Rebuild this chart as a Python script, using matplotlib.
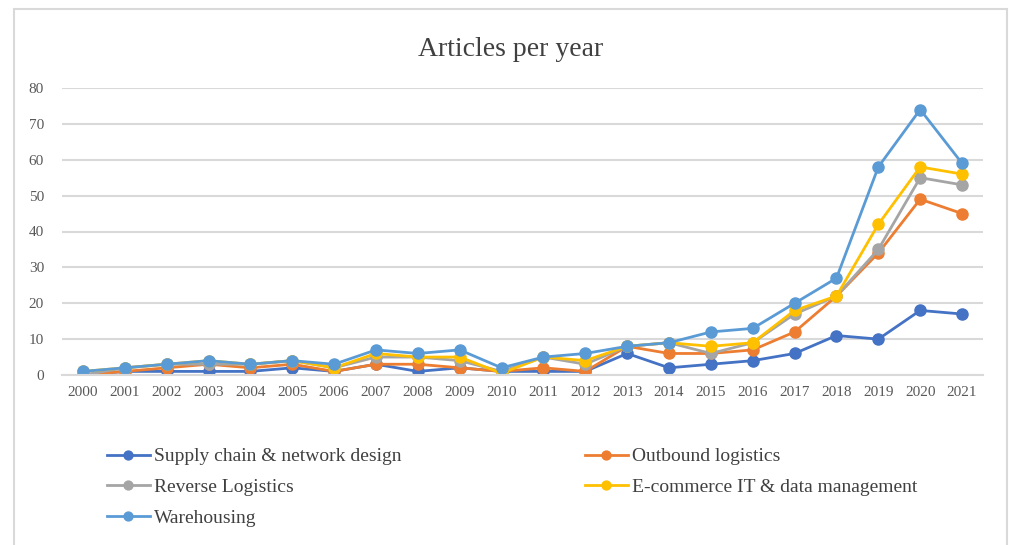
import matplotlib.pyplot as plt
from matplotlib.patches import Rectangle
import numpy as np

years = [str(y) for y in range(2000, 2022)]

supply_chain = [0, 1, 1, 1, 1, 2, 1, 3, 1, 2, 1, 1, 1, 6, 2, 3, 4, 6, 11, 10, 18, 17]
outbound = [0, 1, 2, 3, 2, 3, 1, 3, 3, 2, 1, 2, 1, 8, 6, 6, 7, 12, 22, 34, 49, 45]
reverse = [0, 2, 3, 3, 3, 4, 2, 5, 5, 4, 1, 5, 3, 8, 9, 6, 9, 17, 22, 35, 55, 53]
ecommerce = [1, 2, 3, 4, 3, 4, 2, 6, 5, 5, 0.5, 5, 4, 8, 9, 8, 9, 18, 22, 42, 58, 56]
warehousing = [1, 2, 3, 4, 3, 4, 3, 7, 6, 7, 2, 5, 6, 8, 9, 12, 13, 20, 27, 58, 74, 59]

series = [
    ('Supply chain & network design', supply_chain, '#4472C4'),
    ('Outbound logistics', outbound, '#ED7D31'),
    ('Reverse Logistics', reverse, '#A5A5A5'),
    ('E-commerce IT & data management', ecommerce, '#FFC000'),
    ('Warehousing', warehousing, '#5B9BD5'),
]

plt.rcParams['font.family'] = ['Liberation Serif', 'DejaVu Serif']

fig = plt.figure(figsize=(10.09, 5.45), dpi=100)
ax = fig.add_axes([62 / 1009, 1 - 375 / 545, 921 / 1009, 287 / 545])

x = np.arange(len(years))
handles = {}
for name, vals, col in series:
    h, = ax.plot(x, vals, color=col, lw=2.0, marker='o', markersize=8, label=name)
    handles[name] = h

ax.set_xlim(-0.5, len(years) - 0.5)
ax.set_ylim(0, 80)
ax.set_yticks(range(0, 81, 10))
ax.set_xticks(x)
ax.set_xticklabels(years)
ax.tick_params(length=0, labelsize=11, colors='#595959', pad=8)
ax.tick_params(axis='y', pad=13)
ax.grid(axis='y', color='#D9D9D9', lw=1.5)
ax.set_axisbelow(True)
for s in ['top', 'right', 'left']:
    ax.spines[s].set_visible(False)
ax.spines['bottom'].set_color('#D9D9D9')
ax.spines['bottom'].set_linewidth(1.5)

fig.text(511 / 1009, 1 - 49 / 545, 'Articles per year', ha='center', va='center',
         fontsize=20, color='#404040')

# legend laid out as two columns, row-major like the original
col1 = ['Supply chain & network design', 'Reverse Logistics', 'Warehousing']
col2 = ['Outbound logistics', 'E-commerce IT & data management']
leg_kw = dict(loc='upper left', frameon=False, fontsize=14, borderpad=0,
              handlelength=2.2, handletextpad=0.25, labelspacing=0.68,
              markerscale=0.8, labelcolor='#404040', bbox_transform=fig.transFigure)
leg1 = ax.legend([handles[n] for n in col1], col1,
                 bbox_to_anchor=(97 / 1009, 1 - 438 / 545), **leg_kw)
ax.add_artist(leg1)
ax.legend([handles[n] for n in col2], col2,
          bbox_to_anchor=(575 / 1009, 1 - 438 / 545), **leg_kw)

fig.patches.append(Rectangle((14 / 1009, -0.02), 993 / 1009, 1.02 - 9 / 545,
                             transform=fig.transFigure, fill=False,
                             edgecolor='#D9D9D9', lw=1.5))

fig.savefig('out.png', dpi=100)
